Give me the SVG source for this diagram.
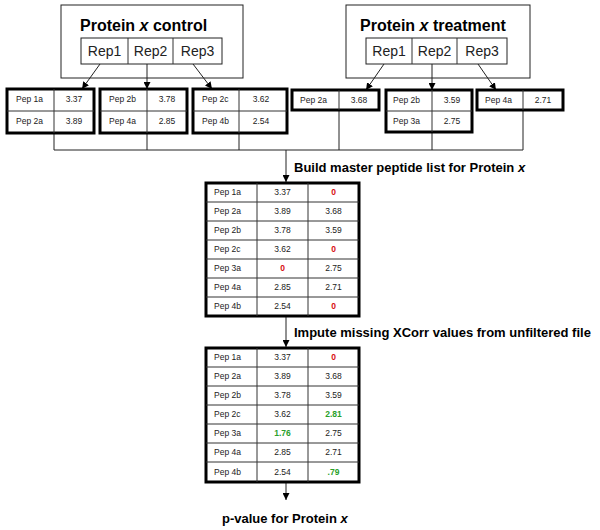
<svg xmlns="http://www.w3.org/2000/svg" width="600" height="530" viewBox="0 0 600 530">
<defs>
<marker id="ah" viewBox="0 0 10 10" refX="10" refY="5" markerWidth="7" markerHeight="7" orient="auto" markerUnits="userSpaceOnUse">
<path d="M0,0 L10,5 L0,10 z" fill="#000"/>
</marker>
<style>
text{font-family:"Liberation Sans",Arial,sans-serif;fill:#000}
.title{font-size:16px;font-weight:bold}
.rep{font-size:14px;fill:#222}
.lab{font-size:13px;font-weight:bold}
.c{font-size:8.5px;fill:#222}
.m{text-anchor:middle}
.red{fill:#d81010;font-weight:bold}
.grn{fill:#2aa02a;font-weight:bold}
.box{fill:#fff;stroke:#222;stroke-width:1}
.tbl{fill:#fff;stroke:#000;stroke-width:3}
.grid{stroke:#333;stroke-width:1;fill:none}
.ln{stroke:#222;stroke-width:1;fill:none}
</style>
</defs>
<rect width="600" height="530" fill="#fff"/>

<g id="control">
<rect class="box" x="61" y="5" width="182" height="73"/>
<text class="title" x="80" y="31">Protein <tspan font-style="italic">x</tspan> control</text>
<rect class="box" x="81" y="38" width="141" height="26"/>
<line class="grid" x1="128" y1="38" x2="128" y2="64"/>
<line class="grid" x1="173" y1="38" x2="173" y2="64"/>
<text class="rep m" x="104.5" y="56">Rep1</text>
<text class="rep m" x="150.5" y="56">Rep2</text>
<text class="rep m" x="197.5" y="56">Rep3</text>
</g>

<g id="treatment">
<rect class="box" x="346" y="5" width="184" height="73"/>
<text class="title" x="360" y="31">Protein <tspan font-style="italic">x</tspan> treatment</text>
<rect class="box" x="366" y="38" width="141" height="26"/>
<line class="grid" x1="412" y1="38" x2="412" y2="64"/>
<line class="grid" x1="457" y1="38" x2="457" y2="64"/>
<text class="rep m" x="389" y="56">Rep1</text>
<text class="rep m" x="434.5" y="56">Rep2</text>
<text class="rep m" x="482" y="56">Rep3</text>
</g>

<g id="connectors">
<line class="ln" x1="100" y1="64" x2="82" y2="89" marker-end="url(#ah)"/>
<line class="ln" x1="147" y1="64" x2="147" y2="89" marker-end="url(#ah)"/>
<line class="ln" x1="193" y1="64" x2="212" y2="89" marker-end="url(#ah)"/>
<line class="ln" x1="384" y1="64" x2="366" y2="90" marker-end="url(#ah)"/>
<line class="ln" x1="432" y1="64" x2="432" y2="90" marker-end="url(#ah)"/>
<line class="ln" x1="478" y1="64" x2="496" y2="90" marker-end="url(#ah)"/>
<line class="ln" x1="54" y1="133" x2="54" y2="150"/>
<line class="ln" x1="147" y1="133" x2="147" y2="150"/>
<line class="ln" x1="239" y1="133" x2="239" y2="150"/>
<line class="ln" x1="339" y1="110" x2="339" y2="150"/>
<line class="ln" x1="432" y1="132" x2="432" y2="150"/>
<line class="ln" x1="523" y1="110" x2="523" y2="150"/>
<line class="ln" x1="54" y1="150" x2="523" y2="150"/>
<line class="ln" x1="286" y1="150" x2="286" y2="182" marker-end="url(#ah)"/>
<line class="ln" x1="286" y1="316" x2="286" y2="347" marker-end="url(#ah)"/>
<line class="ln" x1="286" y1="482" x2="286" y2="500" marker-end="url(#ah)"/>
</g>

<g id="c-rep1">
<rect class="tbl" x="7" y="89" width="87" height="44"/>
<line class="grid" x1="54" y1="89" x2="54" y2="133"/>
<line class="grid" x1="7" y1="111" x2="94" y2="111"/>
<text class="c" x="16" y="102">Pep 1a</text><text class="c m" x="74" y="102">3.37</text>
<text class="c" x="16" y="124">Pep 2a</text><text class="c m" x="74" y="124">3.89</text>
</g>
<g id="c-rep2">
<rect class="tbl" x="100" y="89" width="87" height="44"/>
<line class="grid" x1="147" y1="89" x2="147" y2="133"/>
<line class="grid" x1="100" y1="111" x2="187" y2="111"/>
<text class="c" x="109" y="102">Pep 2b</text><text class="c m" x="167" y="102">3.78</text>
<text class="c" x="109" y="124">Pep 4a</text><text class="c m" x="167" y="124">2.85</text>
</g>
<g id="c-rep3">
<rect class="tbl" x="193" y="89" width="94" height="44"/>
<line class="grid" x1="239" y1="89" x2="239" y2="133"/>
<line class="grid" x1="193" y1="111" x2="287" y2="111"/>
<text class="c" x="202" y="102">Pep 2c</text><text class="c m" x="261" y="102">3.62</text>
<text class="c" x="202" y="124">Pep 4b</text><text class="c m" x="261" y="124">2.54</text>
</g>

<g id="t-rep1">
<rect class="tbl" x="292" y="90" width="87" height="20"/>
<line class="grid" x1="339" y1="90" x2="339" y2="110"/>
<text class="c" x="300" y="103">Pep 2a</text><text class="c m" x="359" y="103">3.68</text>
</g>
<g id="t-rep2">
<rect class="tbl" x="386" y="90" width="86" height="42"/>
<line class="grid" x1="432" y1="90" x2="432" y2="132"/>
<line class="grid" x1="386" y1="111" x2="472" y2="111"/>
<text class="c" x="393" y="103">Pep 2b</text><text class="c m" x="452" y="103">3.59</text>
<text class="c" x="393" y="124">Pep 3a</text><text class="c m" x="452" y="124">2.75</text>
</g>
<g id="t-rep3">
<rect class="tbl" x="477" y="90" width="86" height="20"/>
<line class="grid" x1="523" y1="90" x2="523" y2="110"/>
<text class="c" x="485" y="103">Pep 4a</text><text class="c m" x="543" y="103">2.71</text>
</g>

<text class="lab" x="294" y="172">Build master peptide list for Protein <tspan font-style="italic">x</tspan></text>

<g id="master">
<rect class="tbl" x="206" y="183" width="153" height="133"/>
<path class="grid" d="M257,183V316M308,183V316M206,202H359M206,221H359M206,240H359M206,259H359M206,278H359M206,297H359"/>
<text class="c" x="214" y="195">Pep 1a</text><text class="c m" x="282.5" y="195">3.37</text><text class="c m red" x="333.5" y="195">0</text>
<text class="c" x="214" y="214">Pep 2a</text><text class="c m" x="282.5" y="214">3.89</text><text class="c m" x="333.5" y="214">3.68</text>
<text class="c" x="214" y="233">Pep 2b</text><text class="c m" x="282.5" y="233">3.78</text><text class="c m" x="333.5" y="233">3.59</text>
<text class="c" x="214" y="252">Pep 2c</text><text class="c m" x="282.5" y="252">3.62</text><text class="c m red" x="333.5" y="252">0</text>
<text class="c" x="214" y="271">Pep 3a</text><text class="c m red" x="282.5" y="271">0</text><text class="c m" x="333.5" y="271">2.75</text>
<text class="c" x="214" y="290">Pep 4a</text><text class="c m" x="282.5" y="290">2.85</text><text class="c m" x="333.5" y="290">2.71</text>
<text class="c" x="214" y="309">Pep 4b</text><text class="c m" x="282.5" y="309">2.54</text><text class="c m red" x="333.5" y="309">0</text>
</g>

<text class="lab" x="294" y="337">Impute missing XCorr values from unfiltered file</text>

<g id="imputed">
<rect class="tbl" x="206" y="348" width="153" height="134"/>
<path class="grid" d="M257,348V482M308,348V482M206,367H359M206,386H359M206,405H359M206,424H359M206,443H359M206,462H359"/>
<text class="c" x="214" y="360">Pep 1a</text><text class="c m" x="282.5" y="360">3.37</text><text class="c m red" x="333.5" y="360">0</text>
<text class="c" x="214" y="379">Pep 2a</text><text class="c m" x="282.5" y="379">3.89</text><text class="c m" x="333.5" y="379">3.68</text>
<text class="c" x="214" y="398">Pep 2b</text><text class="c m" x="282.5" y="398">3.78</text><text class="c m" x="333.5" y="398">3.59</text>
<text class="c" x="214" y="417">Pep 2c</text><text class="c m" x="282.5" y="417">3.62</text><text class="c m grn" x="333.5" y="417">2.81</text>
<text class="c" x="214" y="436">Pep 3a</text><text class="c m grn" x="282.5" y="436">1.76</text><text class="c m" x="333.5" y="436">2.75</text>
<text class="c" x="214" y="455">Pep 4a</text><text class="c m" x="282.5" y="455">2.85</text><text class="c m" x="333.5" y="455">2.71</text>
<text class="c" x="214" y="475">Pep 4b</text><text class="c m" x="282.5" y="475">2.54</text><text class="c m grn" x="333.5" y="475">.79</text>
</g>

<text class="lab" x="222" y="523">p-value for Protein <tspan font-style="italic">x</tspan></text>
</svg>
